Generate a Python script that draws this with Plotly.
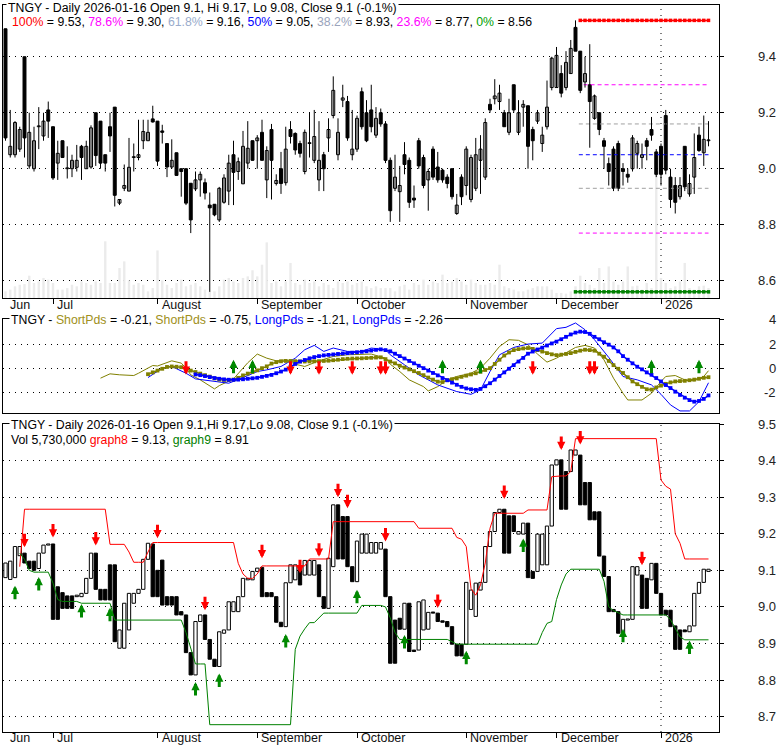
import plotly.graph_objects as go
import pandas as pd

# ---------------- calendar ----------------
HOLIDAYS = ["2025-06-19", "2025-07-04", "2025-09-01", "2025-11-27", "2025-12-25", "2026-01-01"]
dates = [d for d in pd.bdate_range("2025-06-16", "2026-01-16") if d.strftime("%Y-%m-%d") not in HOLIDAYS]
idx = list(range(len(dates)))
MONTH_NAMES = {6: "Jun", 7: "Jul", 8: "August", 9: "September", 10: "October",
               11: "November", 12: "December", 1: "2026"}

# ---------------- top panel: daily OHLC ----------------
opens = [
    9.50, 9.05, 9.05, 9.07, 9.40, 9.01, 9.00, 9.15, 9.117, 9.21,
    9.15, 9.02, 9.10, 9.00, 9.00, 9.005, 9.08, 9.00, 9.006, 9.20,
    9.17, 9.05, 9.15, 9.22, 8.877, 8.93, 8.92, 9.04, 9.04, 9.10,
    9.10, 9.178, 9.17, 9.135, 9.09, 9.006, 9.057, 9.00, 9.00, 8.948,
    8.928, 8.96, 8.95, 8.87, 8.873, 8.817, 8.88, 8.92, 9.05, 8.99,
    8.946, 9.02, 9.10, 9.10, 9.13, 8.96, 9.14, 8.947, 9.00, 8.95,
    9.14, 9.126, 9.09, 8.99, 9.09, 9.03, 8.96, 9.05, 9.11, 9.19,
    9.05, 9.245, 9.24, 9.05, 9.07, 9.275, 9.20, 9.21, 9.12, 9.20,
    9.16, 9.03, 8.93, 8.918, 9.05, 9.03, 8.895, 9.10, 9.04, 8.96,
    9.07, 9.006, 8.995, 8.97, 9.00, 8.84, 8.97, 8.94, 8.89, 8.93,
    9.03, 8.97, 9.23, 9.25, 9.24, 9.20, 9.13, 9.30, 9.13, 9.22,
    9.225, 9.14, 9.17, 9.09, 9.15, 9.29, 9.29, 9.34, 9.29, 9.34,
    9.505, 9.42, 9.31, 9.30, 9.18, 9.20, 9.10, 9.018, 9.07, 9.09,
    9.00, 8.98, 9.00, 9.055, 9.04, 9.10, 9.14, 9.06, 9.08, 9.19,
    8.97, 8.94, 8.90, 9.08, 8.91, 8.97, 9.12, 9.057, 9.10]
highs = [
    9.50, 9.21, 9.17, 9.15, 9.40, 9.20, 9.15, 9.22, 9.20, 9.24,
    9.15, 9.10, 9.10, 9.08, 9.05, 9.085, 9.085, 9.10, 9.155, 9.20,
    9.17, 9.05, 9.20, 9.22, 8.89, 9.015, 9.11, 9.09, 9.175, 9.175,
    9.175, 9.225, 9.17, 9.157, 9.09, 9.105, 9.057, 9.00, 9.00, 8.948,
    8.99, 8.99, 8.965, 8.915, 8.873, 8.935, 8.98, 9.05, 9.10, 9.04,
    9.135, 9.17, 9.10, 9.12, 9.175, 9.08, 9.16, 8.98, 9.06, 9.15,
    9.17, 9.13, 9.10, 9.14, 9.20, 9.21, 9.17, 9.06, 9.18, 9.33,
    9.18, 9.30, 9.26, 9.21, 9.19, 9.29, 9.245, 9.30, 9.22, 9.215,
    9.17, 9.04, 9.05, 9.01, 9.095, 9.04, 8.94, 9.11, 9.05, 9.00,
    9.08, 9.06, 9.00, 8.98, 9.00, 8.91, 8.98, 9.08, 9.05, 9.11,
    9.12, 9.18, 9.25, 9.32, 9.30, 9.21, 9.25, 9.30, 9.245, 9.245,
    9.225, 9.15, 9.21, 9.15, 9.315, 9.40, 9.435, 9.37, 9.42, 9.46,
    9.53, 9.42, 9.40, 9.445, 9.265, 9.20, 9.11, 9.04, 9.08, 9.10,
    9.02, 9.00, 9.12, 9.10, 9.09, 9.11, 9.185, 9.07, 9.09, 9.21,
    9.00, 8.97, 8.97, 9.08, 8.98, 9.126, 9.15, 9.19, 9.17]
lows = [
    9.10, 9.04, 9.04, 9.06, 9.04, 9.00, 8.99, 9.07, 9.10, 9.11,
    8.96, 8.96, 9.04, 8.965, 8.97, 8.99, 8.96, 9.00, 9.00, 9.01,
    9.00, 8.99, 9.06, 8.865, 8.87, 8.92, 8.92, 8.99, 9.03, 9.07,
    9.10, 9.165, 9.01, 9.09, 8.97, 9.00, 8.976, 8.90, 8.87, 8.77,
    8.92, 8.90, 8.89, 8.56, 8.83, 8.81, 8.875, 8.87, 8.87, 8.96,
    8.946, 9.00, 9.03, 9.00, 9.03, 8.895, 8.89, 8.94, 8.91, 8.94,
    9.09, 9.05, 9.04, 8.98, 9.04, 9.02, 8.92, 8.92, 9.06, 9.18,
    9.03, 9.22, 9.10, 9.03, 9.06, 9.14, 9.095, 9.13, 9.11, 9.15,
    9.02, 8.81, 8.92, 8.81, 8.98, 8.86, 8.86, 9.00, 8.93, 8.85,
    8.96, 8.95, 8.95, 8.93, 8.89, 8.835, 8.87, 8.905, 8.88, 8.92,
    8.91, 8.96, 9.20, 9.23, 9.21, 9.15, 9.12, 9.20, 9.12, 9.15,
    9.00, 9.03, 9.16, 9.06, 9.14, 9.28, 9.29, 9.255, 9.28, 9.34,
    9.42, 9.27, 9.29, 9.075, 9.175, 9.12, 9.00, 8.94, 8.92, 8.92,
    8.94, 8.95, 8.99, 9.00, 9.00, 9.03, 9.10, 8.97, 8.94, 8.98,
    8.86, 8.84, 8.89, 8.92, 8.90, 8.91, 9.06, 9.01, 9.08]
closes = [
    9.11, 9.08, 9.165, 9.14, 9.11, 9.13, 9.10, 9.15, 9.17, 9.17,
    8.967, 9.055, 9.04, 9.00, 9.03, 9.03, 9.04, 9.08, 9.146, 9.047,
    9.02, 9.02, 9.117, 8.905, 8.89, 8.94, 9.005, 9.04, 9.05, 9.133,
    9.13, 9.167, 9.027, 9.13, 9.006, 9.03, 8.976, 8.99, 8.877, 8.817,
    8.96, 8.98, 8.913, 8.86, 8.835, 8.93, 8.967, 9.02, 8.987, 9.025,
    9.08, 9.073, 9.03, 9.11, 9.03, 9.065, 9.03, 8.958, 8.947, 9.07,
    9.115, 9.067, 9.055, 9.13, 9.09, 9.115, 9.03, 9.00, 9.14, 9.28,
    9.13, 9.253, 9.11, 9.07, 9.18, 9.15, 9.10, 9.15, 9.18, 9.16,
    9.03, 8.85, 8.97, 8.94, 9.015, 8.88, 8.888, 9.01, 8.94, 8.99,
    8.97, 8.96, 8.96, 8.947, 8.90, 8.87, 8.90, 9.07, 9.04, 9.05,
    9.07, 9.165, 9.21, 9.26, 9.27, 9.15, 9.20, 9.21, 9.20, 9.23,
    9.08, 9.10, 9.20, 9.12, 9.22, 9.395, 9.405, 9.27, 9.38, 9.43,
    9.42, 9.28, 9.34, 9.24, 9.26, 9.14, 9.08, 8.99, 8.93, 8.93,
    8.99, 8.97, 9.11, 9.09, 9.05, 9.08, 9.12, 8.98, 8.98, 8.995,
    8.89, 8.88, 8.94, 8.935, 8.947, 9.04, 9.065, 9.105, 9.10]
volume_m = [
    3.8, 4.8, 6.7, 7.6, 8.0, 12.8, 8.6, 9.5, 11.5, 10.5,
    8.6, 4.8, 4.8, 5.7, 7.6, 6.7, 9.5, 8.6, 7.6, 9.5,
    8.6, 32.5, 8.6, 8.6, 17.2, 21.0, 10.1, 7.6, 8.6, 7.6,
    3.8, 5.7, 27.3, 10.1, 7.6, 5.7, 8.6, 10.5, 6.7, 7.6,
    8.6, 6.7, 4.8, 3.8, 3.8, 6.7, 10.5, 11.5, 9.5, 8.6,
    11.5, 12.4, 15.9, 12.4, 19.1, 31.9, 8.6, 9.5, 6.7, 9.5,
    20.1, 8.6, 7.6, 10.5, 8.6, 9.5, 6.7, 8.6, 7.6, 5.7,
    9.5, 8.6, 9.5, 7.6, 8.6, 9.5, 6.7, 5.7, 6.7, 5.7,
    5.7, 5.7, 3.8, 6.7, 7.6, 4.8, 8.6, 7.6, 10.5, 7.6,
    9.5, 8.6, 13.4, 8.6, 9.5, 11.5, 9.5, 7.6, 10.5, 8.6,
    7.6, 7.6, 8.6, 7.6, 19.1, 6.7, 5.7, 4.8, 3.8, 3.8,
    4.8, 5.7, 6.7, 6.7, 6.7, 4.8, 2.9, 2.9, 2.5, 3.8,
    6.7, 12.8, 8.6, 7.6, 5.7, 17.2, 8.6, 18.1, 9.5, 7.6,
    9.5, 18.1, 6.7, 7.1, 4.8, 8.6, 5.7, 73.5, 11.5, 8.6,
    5.7, 6.7, 9.5, 20.1, 5.7, 4.8, 6.7, 7.1, 5.73]

fib_names = ["100%", "78.6%", "61.8%", "50%", "38.2%", "23.6%", "0%"]
fib_levels = [9.53, 9.30, 9.16, 9.05, 8.93, 8.77, 8.56]
fib_start = [121, 122, 121, 121, 121, 121, 120]

# ---------------- middle panel ----------------
short_fast_x = [20, 22, 24, 27, 28, 31, 32, 35, 37, 38, 39, 41, 44, 45, 48, 49, 51, 53, 55, 57,
                59, 61, 63, 66, 69, 72, 75, 77, 80, 81, 83, 85, 88, 89, 91, 93, 95, 98, 100, 102,
                104, 106, 108, 110, 112, 114, 116, 118, 120, 122, 124, 126, 128, 130, 131, 134,
                136, 138, 139, 141, 143, 145, 147, 148]
short_fast_y = [-0.83, -0.47, -0.55, -0.61, -0.42, 0.22, 0.18, 0.61, 0.42, 0.00, -0.55, -0.97,
                -1.72, -1.45, -0.89, -0.42, 0.45, 1.17, 0.83, 0.61, 0.69, 0.33, 0.14, 0.61, 0.97,
                1.11, 1.11, 1.17, 0.83, 0.33, -0.28, -0.97, -1.53, -1.89, -1.53, -0.97, -0.69,
                -0.42, 0.00, 0.83, 1.80, 2.36, 2.31, 1.94, 1.17, 0.50, 0.83, 1.25, 1.72, 1.89,
                1.67, 0.69, -0.83, -2.08, -2.64, -2.64, -2.08, -1.11, -0.69, -0.61, -0.97, -1.05,
                -0.69, -0.21]
long_fast_x = [30, 33, 35, 38, 40, 44, 47, 50, 53, 55, 58, 61, 63, 65, 67, 69, 72, 75, 77, 80,
               81, 84, 87, 91, 95, 98, 100, 102, 104, 107, 110, 113, 116, 118, 120, 122, 124,
               127, 130, 133, 136, 138, 140, 142, 144, 146, 148]
long_fast_y = [-0.78, 0.00, 0.14, -0.42, -0.89, -1.11, -1.25, -0.78, -0.28, -0.14, 0.14, 0.83,
               1.53, 1.89, 1.39, 1.67, 1.39, 1.39, 1.67, 1.53, 1.11, 0.28, -0.55, -1.39, -1.94,
               -2.17, -1.80, -0.28, 1.11, 1.72, 2.00, 2.08, 3.28, 3.39, 3.75, 3.19, 2.36, 0.89,
               -0.69, -0.97, -1.39, -2.17, -3.05, -3.55, -3.55, -2.78, -1.21]
short_slow_start = 30
short_slow = [
    -0.50, -0.35, -0.20, -0.05, 0.10, 0.14, 0.12, 0.08, -0.05, -0.20,
    -0.32, -0.45, -0.58, -0.70, -0.85, -0.95, -0.98, -0.98, -0.95, -0.80,
    -0.60, -0.45, -0.32, -0.18, 0.00, 0.15, 0.38, 0.50, 0.57, 0.60,
    0.60, 0.58, 0.56, 0.55, 0.56, 0.57, 0.58, 0.60, 0.62, 0.66,
    0.70, 0.75, 0.78, 0.80, 0.81, 0.82, 0.84, 0.86, 0.88, 0.90,
    0.75, 0.55, 0.40, 0.20, 0.05, -0.10, -0.25, -0.40, -0.58, -0.78,
    -0.95, -1.12, -1.15, -1.00, -0.92, -0.85, -0.72, -0.62, -0.52, -0.42,
    -0.30, -0.15, 0.00, 0.35, 0.70, 1.05, 1.30, 1.50, 1.58, 1.64,
    1.67, 1.60, 1.50, 1.38, 1.25, 1.15, 1.08, 1.12, 1.18, 1.25,
    1.35, 1.45, 1.53, 1.50, 1.45, 1.20, 0.95, 0.60, 0.25, -0.05,
    -0.40, -0.75, -1.10, -1.33, -1.55, -1.75, -1.78, -1.60, -1.45, -1.30,
    -1.18, -1.10, -1.07, -1.05, -1.00, -0.95, -0.88, -0.80, -0.75]
long_slow_start = 40
long_slow = [
    -0.52, -0.58, -0.66, -0.74, -0.82, -0.88, -0.93, -0.96, -0.97, -0.95,
    -0.92, -0.88, -0.84, -0.80, -0.72, -0.64, -0.56, -0.42, -0.28, -0.12,
    0.12, 0.35, 0.55, 0.68, 0.82, 0.92, 1.00, 1.06, 1.10, 1.14,
    1.18, 1.22, 1.25, 1.28, 1.32, 1.36, 1.40, 1.46, 1.52, 1.56,
    1.50, 1.40, 1.20, 1.00, 0.80, 0.60, 0.40, 0.20, 0.00, -0.20,
    -0.40, -0.60, -0.82, -1.00, -1.20, -1.38, -1.55, -1.68, -1.75, -1.80,
    -1.72, -1.50, -1.25, -0.95, -0.65, -0.35, -0.05, 0.25, 0.55, 0.85,
    1.20, 1.38, 1.55, 1.70, 1.88, 2.05, 2.20, 2.40, 2.60, 2.80,
    2.95, 3.03, 3.00, 2.85, 2.60, 2.40, 2.15, 1.95, 1.72, 1.40,
    1.00, 0.70, 0.40, 0.12, -0.10, -0.35, -0.55, -0.82, -1.10, -1.40,
    -1.65, -1.95, -2.22, -2.45, -2.65, -2.78, -2.72, -2.55, -2.26]
mid_sell_days = [38, 60, 66, 73, 79, 80, 111, 123, 124]
mid_buy_days = [48, 52, 92, 100, 136, 146]

# ---------------- bottom panel ----------------
box_open = [
    9.08, 9.075, 9.08, 9.14, 9.147, 9.125, 9.125, 9.105, 9.147, 9.169,
    9.172, 9.055, 9.039, 9.03, 9.03, 9.028, 9.028, 9.037, 9.078, 9.147,
    9.048, 9.048, 9.115, 9.115, 8.887, 8.887, 8.937, 9.01, 9.037, 9.048,
    9.13, 9.172, 9.10, 9.128, 9.028, 9.028, 9.028, 8.987, 8.978, 8.875,
    8.814, 8.96, 8.978, 8.911, 8.857, 8.837, 8.928, 8.937, 8.987, 8.987,
    9.028, 9.074, 9.074, 9.097, 9.108, 9.039, 9.039, 9.028, 8.958, 8.946,
    9.066, 9.074, 9.106, 9.087, 9.087, 9.087, 9.115, 9.028, 8.996, 9.11,
    9.279, 9.247, 9.247, 9.11, 9.069, 9.147, 9.147, 9.147, 9.147, 9.158,
    9.158, 9.028, 8.964, 8.969, 8.939, 9.01, 8.882, 8.882, 8.937, 8.939,
    8.985, 8.983, 8.962, 8.96, 8.946, 8.898, 8.898, 8.898, 8.993, 8.974,
    9.046, 9.067, 9.165, 9.206, 9.258, 9.267, 9.249, 9.249, 9.199, 9.199,
    9.229, 9.097, 9.097, 9.115, 9.115, 9.221, 9.388, 9.402, 9.37, 9.37,
    9.415, 9.415, 9.34, 9.34, 9.26, 9.26, 9.139, 9.083, 8.993, 8.987,
    8.928, 8.964, 8.966, 9.087, 9.087, 9.078, 9.074, 9.119, 9.037, 8.991,
    8.991, 8.948, 8.937, 8.937, 8.932, 8.948, 9.037, 9.067, 9.097]
box_close = [
    9.12, 9.125, 9.165, 9.165, 9.12, 9.105, 9.10, 9.147, 9.169, 9.172,
    8.966, 8.966, 8.996, 8.996, 8.996, 9.032, 9.037, 9.078, 9.147, 9.048,
    9.019, 9.019, 9.019, 8.905, 8.937, 9.01, 9.037, 9.037, 9.048, 9.13,
    9.174, 9.028, 9.028, 9.005, 9.005, 9.005, 8.978, 8.978, 8.875, 8.814,
    8.96, 8.978, 8.911, 8.857, 8.837, 8.932, 8.937, 9.014, 9.014, 9.028,
    9.078, 9.078, 9.097, 9.106, 9.028, 9.028, 9.028, 8.958, 8.946, 9.066,
    9.115, 9.115, 9.06, 9.127, 9.127, 9.127, 9.028, 8.996, 9.133, 9.279,
    9.131, 9.131, 9.11, 9.069, 9.18, 9.199, 9.199, 9.176, 9.176, 9.176,
    9.028, 8.846, 8.846, 8.939, 9.01, 8.878, 8.878, 9.014, 9.019, 8.985,
    8.983, 8.96, 8.958, 8.946, 8.898, 8.866, 8.866, 9.067, 9.046, 9.065,
    9.067, 9.165, 9.206, 9.258, 9.267, 9.147, 9.147, 9.206, 9.206, 9.229,
    9.08, 9.078, 9.199, 9.199, 9.221, 9.388, 9.402, 9.267, 9.267, 9.429,
    9.429, 9.279, 9.279, 9.238, 9.238, 9.139, 9.083, 8.987, 8.987, 8.928,
    8.966, 8.966, 9.11, 9.11, 8.996, 8.996, 9.119, 9.037, 8.978, 8.978,
    8.946, 8.884, 8.884, 8.932, 8.948, 9.037, 9.067, 9.103, 9.103]
graph8 = [
    None, None, None, 9.11, 9.267, 9.267, 9.267, 9.267, 9.267, 9.267,
    9.267, 9.267, 9.267, 9.267, 9.267, 9.267, 9.267, 9.267, 9.267, 9.267,
    9.267, 9.267, 9.171, 9.171, 9.171, 9.171, 9.15, 9.122, 9.122, 9.122,
    9.15, 9.176, 9.176, 9.176, 9.176, 9.176, 9.176, 9.176, 9.176, 9.176,
    9.176, 9.176, 9.176, 9.176, 9.176, 9.176, 9.176, 9.176, 9.176, 9.119,
    9.09, 9.078, 9.078, 9.09, 9.112, 9.112, 9.112, 9.112, 9.112, 9.112,
    9.112, 9.112, 9.112, 9.112, 9.131, 9.131, 9.131, 9.131, 9.131, 9.233,
    9.233, 9.233, 9.233, 9.233, 9.233, 9.233, 9.233, 9.233, 9.233, 9.233,
    9.233, 9.233, 9.233, 9.233, 9.233, 9.233, 9.233, 9.215, 9.215, 9.215,
    9.215, 9.215, 9.215, 9.215, 9.215, 9.19, 9.185, 9.165, 9.05, 9.032,
    9.06, 9.12, 9.215, 9.256, 9.256, 9.256, 9.256, 9.256, 9.256, 9.256,
    9.265, 9.265, 9.265, 9.265, 9.265, 9.356, 9.358, 9.358, 9.358, 9.37,
    9.46, 9.46, 9.46, 9.46, 9.46, 9.46, 9.46, 9.46, 9.46, 9.46,
    9.46, 9.46, 9.46, 9.46, 9.46, 9.46, 9.46, 9.46, 9.347, 9.33,
    9.322, 9.2, 9.174, 9.131, 9.131, 9.131, 9.131, 9.131, 9.131]
graph9 = [
    None, None, None, 9.147, 9.13, 9.10, 9.095, 9.095, 9.095, 9.095,
    9.065, 9.02, 9.015, 9.015, 9.015, 9.015, 9.01, 9.01, 9.01, 9.01,
    9.01, 9.01, 9.01, 8.964, 8.964, 8.964, 8.964, 8.964, 8.964, 8.964,
    8.964, 8.964, 8.964, 8.964, 8.964, 8.964, 8.964, 8.964, 8.93, 8.887,
    8.844, 8.844, 8.844, 8.678, 8.678, 8.678, 8.678, 8.678, 8.678, 8.678,
    8.678, 8.678, 8.678, 8.678, 8.678, 8.678, 8.678, 8.678, 8.678, 8.678,
    8.678, 8.884, 8.92, 8.94, 8.957, 8.957, 8.97, 8.983, 8.983, 8.983,
    8.983, 8.983, 8.983, 8.983, 8.983, 9.004, 9.004, 9.004, 9.004, 9.004,
    9.0, 8.97, 8.93, 8.911, 8.911, 8.911, 8.911, 8.911, 8.911, 8.911,
    8.911, 8.911, 8.911, 8.911, 8.905, 8.898, 8.898, 8.898, 8.898, 8.898,
    8.898, 8.898, 8.898, 8.898, 8.898, 8.898, 8.898, 8.898, 8.898, 8.898,
    8.898, 8.898, 8.898, 8.93, 8.955, 8.96, 9.02, 9.06, 9.09, 9.103,
    9.103, 9.103, 9.103, 9.103, 9.103, 9.103, 9.07, 9.0, 8.99, 8.985,
    8.978, 8.978, 8.978, 8.978, 8.978, 8.978, 8.978, 8.978, 8.978, 8.978,
    8.965, 8.941, 8.918, 8.91, 8.91, 8.91, 8.91, 8.91, 8.91]
sell_days = [4, 10, 19, 32, 42, 54, 62, 66, 70, 72, 80, 91, 105, 117, 121, 134]
sell_tips = [9.163, 9.19, 9.168, 9.188, 8.991, 9.133, 9.092, 9.137, 9.30, 9.27, 9.179, 8.997,
             9.295, 9.429, 9.444, 9.114]
buy_days = [2, 7, 16, 22, 40, 45, 59, 74, 84, 97, 109, 130, 144]
buy_tips = [9.058, 9.082, 9.008, 8.998, 8.795, 8.818, 8.926, 9.047, 8.923, 8.88, 9.187, 8.94, 8.908]

# ---------------- geometry ----------------
FONT = "Liberation Sans, Arial, sans-serif"
PH = 727.0  # plot paper height in px (745 - 5 - 13)
def py(px):  # page y px -> paper fraction
    return (732.0 - px) / PH
def pxx(px):  # page x px -> paper fraction
    return (px - 3.0) / 716.0

XR = [-0.526, 150.21]
TOP_DOM = [py(298), 1.0]
MID_DOM = [py(413), py(319)]
BOT_DOM = [0.0, py(424)]
DOT = "1px,5px"

month_idx, month_txt = [], []
for k, d in enumerate(dates):
    if k == 0 or d.month != dates[k - 1].month:
        month_idx.append(k)
        month_txt.append(MONTH_NAMES[d.month])

fig = go.Figure()

# volume (base axis of top panel, drawn beneath prices)
fig.add_trace(go.Bar(x=idx, y=volume_m, width=0.5, marker=dict(color="#ebebeb", line=dict(width=0)),
                     xaxis="x", yaxis="y", hoverinfo="skip"))

# fibonacci levels
fib_colors = ["#ff0000", "#ff00ff", "#a0a0a0", "#0000ff", "#a0a0a0", "#ff00ff", "#008000"]
for name, lvl, st, col in zip(fib_names, fib_levels, fib_start, fib_colors):
    if name in ("100%", "0%"):
        xs = list(range(st, len(idx)))
        fig.add_trace(go.Scatter(x=xs, y=[lvl] * len(xs), mode="lines+markers",
                                 line=dict(color=col, width=1.5),
                                 marker=dict(symbol="square", size=3.5, color=col),
                                 xaxis="x", yaxis="y4", hoverinfo="skip"))
    else:
        fig.add_trace(go.Scatter(x=[st - 0.3, len(idx) - 1], y=[lvl, lvl], mode="lines",
                                 line=dict(color=col, width=1, dash="4px,3px"),
                                 xaxis="x", yaxis="y4", hoverinfo="skip"))

# candles
wx, wy = [], []
for i in idx:
    wx += [i, i, None]
    wy += [lows[i], highs[i], None]
fig.add_trace(go.Scatter(x=wx, y=wy, mode="lines", line=dict(color="black", width=1),
                         xaxis="x", yaxis="y4", hoverinfo="skip"))
c_base = [min(o, c) for o, c in zip(opens, closes)]
c_h = [max(abs(c - o), 0.003) for o, c in zip(opens, closes)]
c_col = ["white" if c >= o else "black" for o, c in zip(opens, closes)]
fig.add_trace(go.Bar(x=idx, y=c_h, base=c_base, width=0.62,
                     marker=dict(color=c_col, line=dict(color="black", width=1)),
                     xaxis="x", yaxis="y4", hoverinfo="skip"))

# middle panel
OLIVE = "#808000"
fig.add_trace(go.Scatter(x=short_fast_x, y=short_fast_y, mode="lines", line=dict(color=OLIVE, width=1),
                         xaxis="x2", yaxis="y2", hoverinfo="skip"))
fig.add_trace(go.Scatter(x=long_fast_x, y=long_fast_y, mode="lines", line=dict(color="#0000ff", width=1),
                         xaxis="x2", yaxis="y2", hoverinfo="skip"))
fig.add_trace(go.Scatter(x=list(range(short_slow_start, short_slow_start + len(short_slow))), y=short_slow,
                         mode="lines+markers", line=dict(color=OLIVE, width=1.5),
                         marker=dict(symbol="square", size=3.8, color=OLIVE),
                         xaxis="x2", yaxis="y2", hoverinfo="skip"))
fig.add_trace(go.Scatter(x=list(range(long_slow_start, long_slow_start + len(long_slow))), y=long_slow,
                         mode="lines+markers", line=dict(color="#0000ff", width=1.5),
                         marker=dict(symbol="square", size=3.8, color="#0000ff"),
                         xaxis="x2", yaxis="y2", hoverinfo="skip"))

# bottom panel
fig.add_trace(go.Scatter(x=idx, y=graph8, mode="lines", line=dict(color="#ff0000", width=1),
                         xaxis="x3", yaxis="y3", hoverinfo="skip"))
fig.add_trace(go.Scatter(x=idx, y=graph9, mode="lines", line=dict(color="#008000", width=1),
                         xaxis="x3", yaxis="y3", hoverinfo="skip"))
b_base = [min(o, c) for o, c in zip(box_open, box_close)]
b_h = [max(abs(c - o), 0.003) for o, c in zip(box_open, box_close)]
b_col = ["white" if c >= o else "black" for o, c in zip(box_open, box_close)]
fig.add_trace(go.Bar(x=idx, y=b_h, base=b_base, width=0.7,
                     marker=dict(color=b_col, line=dict(color="black", width=1)),
                     xaxis="x3", yaxis="y3", hoverinfo="skip"))

# ---------------- axes ----------------
def xax(anchor, ticks):
    return dict(domain=[0, 1], range=XR, anchor=anchor, showticklabels=False, showgrid=False,
                zeroline=False, showline=True, mirror=True, linecolor="black", linewidth=1,
                tickvals=month_idx[1:] if ticks else [], ticks="outside" if ticks else "",
                ticklen=5, tickcolor="black")

def yax(dom, rng, tv, **kw):
    d = dict(domain=dom, range=rng, side="right", tickvals=tv, ticks="outside", ticklen=4,
             tickcolor="black", showticklabels=False, showgrid=True, gridcolor="black",
             gridwidth=1, griddash=DOT, zeroline=False, showline=True, mirror=True,
             linecolor="black", linewidth=1, anchor=kw.pop("anchor"))
    d.update(kw)
    return d

top_ticks = [9.4, 9.2, 9.0, 8.8, 8.6]
mid_ticks = [4, 2, 0, -2]
bot_ticks = [9.5, 9.4, 9.3, 9.2, 9.1, 9.0, 8.9, 8.8, 8.7]

fig.update_layout(
    width=780, height=745, margin=dict(l=3, r=61, t=5, b=13),
    paper_bgcolor="white", plot_bgcolor="white", showlegend=False, barmode="overlay",
    font=dict(family=FONT, size=12, color="black"),
    xaxis=xax("y", True), xaxis2=xax("y2", False), xaxis3=xax("y3", True),
    yaxis=dict(domain=TOP_DOM, range=[0, 168], visible=False, anchor="x"),
    yaxis4=yax(TOP_DOM, [8.538, 9.585], top_ticks, anchor="x", overlaying="y"),
    yaxis2=yax(MID_DOM, [-3.72, 4.08], mid_ticks, anchor="x2"),
    yaxis3=yax(BOT_DOM, [8.658, 9.5], bot_ticks, anchor="x3"),
)

# year separator
fig.add_shape(type="line", xref="x", yref="y domain", x0=138, x1=138, y0=0, y1=1, layer="below",
              line=dict(color="black", width=1, dash=DOT))
fig.add_shape(type="line", xref="x3", yref="y3 domain", x0=138, x1=138, y0=0, y1=1, layer="below",
              line=dict(color="black", width=1, dash=DOT))

ann = []
LBL = dict(size=13, color="#222222", family=FONT)
for v in top_ticks:
    ann.append(dict(xref="paper", yref="y4", x=pxx(778), y=v, text=f"{v:.1f}", showarrow=False,
                    xanchor="right", yanchor="middle", font=LBL))
for v in mid_ticks:
    ann.append(dict(xref="paper", yref="y2", x=pxx(778), y=v, text=str(v), showarrow=False,
                    xanchor="right", yanchor="middle", font=LBL))
for v in bot_ticks:
    ann.append(dict(xref="paper", yref="y3", x=pxx(778), y=v, text=f"{v:.1f}", showarrow=False,
                    xanchor="right", yanchor="middle", font=LBL))

MFONT = dict(size=12.5, color="#111111", family=FONT)
for k, t in zip(month_idx, month_txt):
    ann.append(dict(xref="x", yref="paper", x=k, y=py(305), text=t, showarrow=False,
                    xanchor="left", yanchor="middle", xshift=2, font=MFONT))
    ann.append(dict(xref="x3", yref="paper", x=k, y=py(738), text=t, showarrow=False,
                    xanchor="left", yanchor="middle", xshift=2, font=MFONT))

TF = dict(size=12.3, color="black", family=FONT)
def sp(c, t):
    return f"<span style='color:{c}'>{t}</span>"

ann.append(dict(xref="paper", yref="paper", x=pxx(6), y=py(7.5), showarrow=False, xanchor="left",
                yanchor="middle", bgcolor="white", font=TF,
                text="TNGY - Daily 2026-01-16 Open 9.1, Hi 9.17, Lo 9.08, Close 9.1 (-0.1%)"))
fib_txt_cols = ["#ff0000", "#ff00ff", "#9aaccc", "#0000ff", "#9aa4bc", "#ff00ff", "#00a000"]
fib_line = ", ".join(sp(c, n) + f" = {v:.2f}" for n, v, c in zip(fib_names, fib_levels, fib_txt_cols))
ann.append(dict(xref="paper", yref="paper", x=pxx(10), y=py(22), showarrow=False, xanchor="left",
                yanchor="middle", font=TF, text=fib_line))
SP_C = "#a09020"
ann.append(dict(xref="paper", yref="paper", x=pxx(9), y=py(320), showarrow=False, xanchor="left",
                yanchor="middle", bgcolor="white", font=TF,
                text="TNGY - " + sp(SP_C, "ShortPds") + " = -0.21, " + sp(SP_C, "ShortPds") + " = -0.75, "
                     + sp("#0000ff", "LongPds") + " = -1.21, " + sp("#0000ff", "LongPds") + " = -2.26"))
ann.append(dict(xref="paper", yref="paper", x=pxx(9), y=py(425), showarrow=False, xanchor="left",
                yanchor="middle", bgcolor="white", font=TF,
                text="TNGY - Daily 2026-01-16 Open 9.1,Hi 9.17,Lo 9.08, Close 9.1 (-0.1%)"))
ann.append(dict(xref="paper", yref="paper", x=pxx(9), y=py(439.5), showarrow=False, xanchor="left",
                yanchor="middle", font=TF,
                text="Vol 5,730,000 " + sp("#ff0000", "graph8") + " = 9.13, " + sp("#008000", "graph9") + " = 8.91"))

def arrow(xr, yr, x, y, up, col):
    return dict(xref=xr, yref=yr, x=x, y=y, ax=0, ay=15 if up else -15, text="", showarrow=True,
                arrowhead=2, arrowsize=0.55, arrowwidth=3, arrowcolor=col, standoff=0)

RED, GREEN = "#ff0000", "#008800"
for d in mid_sell_days:
    ann.append(arrow("x2", "y2", d, -0.55, False, RED))
for d in mid_buy_days:
    ann.append(arrow("x2", "y2", d, 0.7, True, GREEN))
for d, t in zip(sell_days, sell_tips):
    ann.append(arrow("x3", "y3", d, t, False, RED))
for d, t in zip(buy_days, buy_tips):
    ann.append(arrow("x3", "y3", d, t, True, GREEN))

fig.update_layout(annotations=ann)
fig.write_html("out.html", config={"displayModeBar": False},
               post_script="document.body.style.margin='0px';document.body.style.overflow='hidden';")
